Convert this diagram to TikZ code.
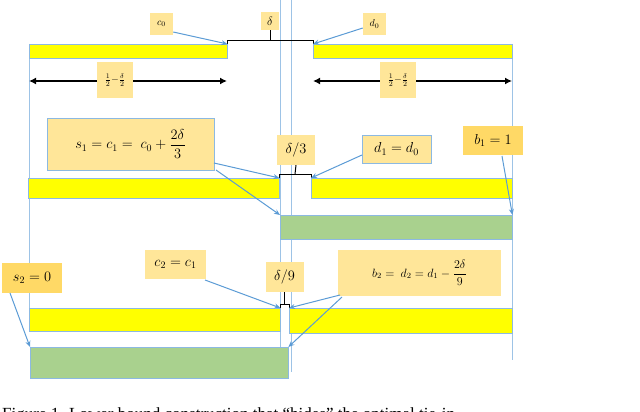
\documentclass[tikz,border=0pt]{standalone}
\usepackage{amsmath}
\usepackage{fontspec}
\setmainfont{Liberation Serif}
\usetikzlibrary{arrows.meta}
\definecolor{yel}{HTML}{FFFF00}
\definecolor{grn}{HTML}{A9D18E}
\definecolor{lab}{HTML}{FFE699}
\definecolor{labd}{HTML}{FFD966}
\definecolor{blu}{HTML}{5B9BD5}
\begin{document}
\begin{tikzpicture}[x=1pt,y=-1pt,
  ybar/.style={fill=yel,draw=blu!70,line width=0.4pt},
  gbar/.style={fill=grn,draw=blu!70,line width=0.4pt},
  lbl/.style={fill=lab,inner sep=2pt,anchor=center},
  lbld/.style={fill=labd,inner sep=2pt,anchor=center},
  guide/.style={draw=blu!60,line width=0.4pt},
  arr/.style={draw=blu,line width=1pt,-{Stealth[length=6pt,width=5pt]}},
  brk/.style={draw=black,line width=1pt},
  dim/.style={draw=black,line width=1.5pt,{Latex[length=7pt,width=7pt]}-{Latex[length=7pt,width=7pt]}}]
\useasboundingbox (0,0) rectangle (640,412);
\clip (0,0) rectangle (640,412);
% guide lines
\draw[guide] (29,44) -- (29,330);
\draw[guide] (280,0) -- (280,372);
\draw[guide] (291,0) -- (291,372);
\draw[guide] (512,44) -- (512,360);
% row 1
\node[ybar,minimum width=198pt,minimum height=14pt,inner sep=0,anchor=north west] (y1l) at (29,44) {};
\node[ybar,minimum width=199pt,minimum height=14pt,inner sep=0,anchor=north west] (y1r) at (313,44) {};
\draw[brk] (y1l.north east) -- ++(0,-3) coordinate (b1a) -- (313,41) -- (y1r.north west);
\coordinate (t1) at (270,41);
\node[lbl,minimum width=18pt,minimum height=18pt,inner sep=0,font=\large] (delta) at (270,21) {$\delta$};
\draw[brk] (t1) -- (delta.south);
\node[lbl,minimum width=23pt,minimum height=22pt,inner sep=0] (c0) at (161.5,24) {$c_0$};
\node[lbl,minimum width=23pt,minimum height=22pt,inner sep=0] (d0) at (374.5,24) {$d_0$};
\draw[arr] (c0.east) ++(0,8) -- (y1l.north east);
\draw[arr] (d0.west) ++(0,4) -- (y1r.north west);
% dims
\coordinate (l1a) at (29,81); \coordinate (l1b) at (227,81);
\coordinate (r1a) at (313,81); \coordinate (r1b) at (512,81);
\draw[dim] (l1a) -- (l1b);
\draw[dim] (r1a) -- (r1b);
\node[lbl,minimum width=36pt,minimum height=36pt,inner sep=0] (fl) at (115,80) {$\frac{1}{2}{-}\frac{\delta}{2}$};
\node[lbl,minimum width=36pt,minimum height=36pt,inner sep=0] (fr) at (398,80) {$\frac{1}{2}{-}\frac{\delta}{2}$};
% row 2
\node[ybar,minimum width=251pt,minimum height=20pt,inner sep=0,anchor=north west] (y2l) at (28,178) {};
\node[ybar,minimum width=201pt,minimum height=20pt,inner sep=0,anchor=north west] (y2r) at (311,178) {};
\draw[brk] (y2l.north east) -- ++(0,-4) -- (311,174) -- (y2r.north west);
\coordinate (t2) at (295,174);
\node[lbl,minimum width=38pt,minimum height=30pt,inner sep=0,font=\Large] (d3) at (296,150) {$\delta/3$};
\draw[brk] (t2) -- (d3.south);
\node[lbl,draw=blu!70,minimum width=167pt,minimum height=52pt,inner sep=0,font=\Large] (s1) at (130.5,144) {$s_1=c_1=\ c_0+\dfrac{2\delta}{3}$};
\node[lbl,draw=blu!70,minimum width=69pt,minimum height=28pt,inner sep=0,font=\Large] (d1) at (396.5,149) {$d_1=d_0$};
\node[lbld,minimum width=60pt,minimum height=29pt,inner sep=0,font=\Large] (b1) at (493,140.5) {$b_1=1$};
\node[gbar,minimum width=232pt,minimum height=24pt,inner sep=0,anchor=north west] (g1) at (280,215) {};
\draw[arr] (214,163) -- (y2l.north east);
\draw[arr] (216,170) -- (g1.north west);
\draw[arr] (362,155) -- (y2r.north west);
\draw[arr] (502,156) -- (g1.north east);
% row 3
\node[ybar,minimum width=251pt,minimum height=23pt,inner sep=0,anchor=north west] (y3l) at (29,308) {};
\node[ybar,minimum width=223pt,minimum height=25pt,inner sep=0,anchor=north west] (y3r) at (289,308) {};
\draw[brk] (y3l.north east) -- ++(0,-4) -- (289,304) -- (y3r.north west);
\coordinate (t3) at (284.5,304);
\node[lbl,minimum width=38pt,minimum height=30pt,inner sep=0,font=\Large] (d9) at (284.5,277) {$\delta/9$};
\draw[brk] (t3) -- (d9.south);
\node[lbld,minimum width=60pt,minimum height=30pt,inner sep=0,font=\Large] (s2) at (32,278) {$s_2=0$};
\node[lbl,minimum width=61pt,minimum height=29pt,inner sep=0,font=\Large] (c2) at (175.5,264.5) {$c_2=c_1$};
\node[lbl,minimum width=163pt,minimum height=46pt,inner sep=0,font=\large] (b2) at (419.5,273) {$b_2=\ d_2=d_1-\dfrac{2\delta}{9}$};
\node[gbar,minimum width=258pt,minimum height=31pt,inner sep=0,anchor=north west] (g2) at (30,347) {};
\draw[arr] (10,293) -- (g2.north west);
\draw[arr] (205,280) -- (y3l.north east);
\draw[arr] (340,295) -- (y3r.north west);
\draw[arr] (342,297) -- (g2.north east);
% caption (cropped)
\node[anchor=base west,font=\fontsize{17}{19}\selectfont,inner sep=0] (cap) at (2,419) {Figure 1. Lower bound construction that “hides” the optimal tie-in};
\end{tikzpicture}
\end{document}
